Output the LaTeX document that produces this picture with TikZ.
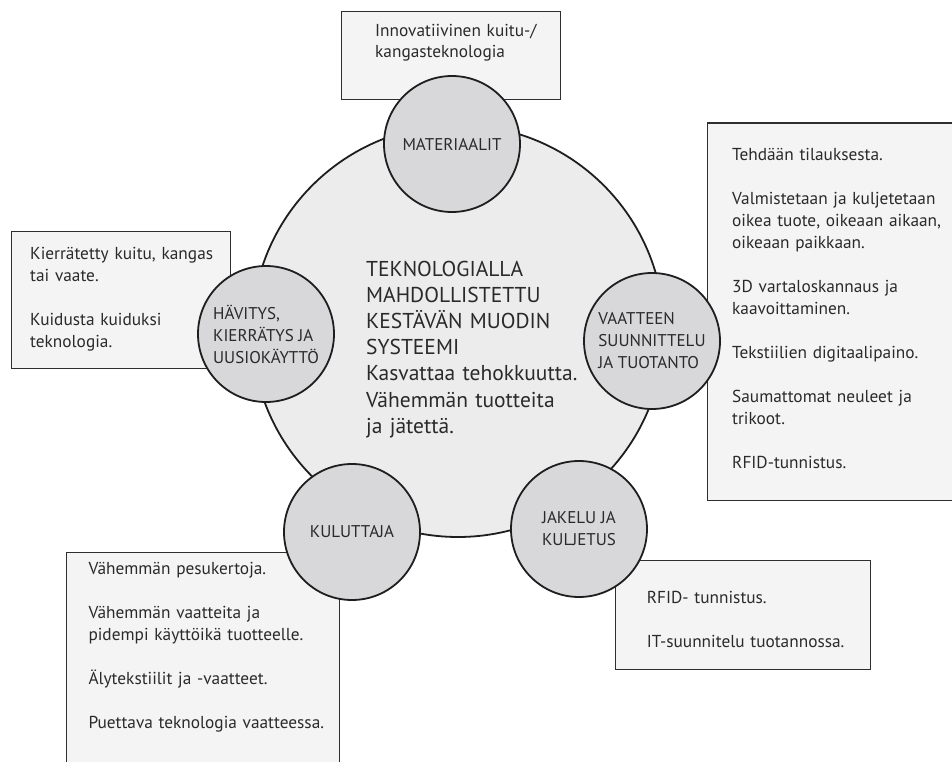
\documentclass[tikz,border=0pt]{standalone}
\usepackage{fontspec}
\setmainfont{PT Sans}
\definecolor{boxfill}{HTML}{F4F4F4}
\definecolor{boxline}{HTML}{2E2E2E}
\definecolor{hubfill}{HTML}{ECECEC}
\definecolor{stagefill}{HTML}{D8D8DA}
\definecolor{ringline}{HTML}{1E1E1E}
\definecolor{inkgray}{HTML}{2A2A2A}

\begin{document}
\begin{tikzpicture}[
	x=1pt, y=-1pt,
	infobox/.style = {draw=boxline, fill=boxfill, line width=1.4pt, inner sep=0pt, anchor=north west},
	hub/.style = {circle, draw=ringline, fill=hubfill, line width=1.8pt, minimum size=412pt, inner sep=0pt},
	stage/.style = {circle, draw=ringline, fill=stagefill, line width=1.8pt, minimum size=136pt, inner sep=0pt},
	stagetext/.style = {align=left, inner sep=0pt, text=inkgray, font=\fontsize{17}{22}\selectfont},
	note/.style = {anchor=base west, inner sep=0pt, text width=260pt, align=left, text=inkgray,
		font=\fontsize{17.3}{22}\selectfont},
	headline/.style = {note, font=\fontsize{21.5}{26.2}\selectfont}
	]
	\useasboundingbox (0,0) rectangle (952,762);

	\coordinate (@mat) at (452,144);
	\coordinate (@vaat) at (652,341);
	\coordinate (@jak) at (579,529);
	\coordinate (@kul) at (352,532);
	\coordinate (@hav) at (266,334);

	\node[infobox, minimum width=219pt, minimum height=88pt] (matbox) at (341,11) {};
	\node[infobox, minimum width=260pt, minimum height=377pt] (vaatbox) at (707,122.5) {};
	\node[infobox, minimum width=255pt, minimum height=108.5pt] (jakbox) at (614.5,560) {};
	\node[infobox, minimum width=273pt, minimum height=220pt] (kulbox) at (66,552) {};
	\node[infobox, minimum width=219pt, minimum height=136.5pt] (havbox) at (10.5,231) {};

	\node[note, font=\fontsize{17.3}{20.5}\selectfont] (mattext) at (375,37) {Innovatiivinen kuitu-/\\kangasteknologia};
	\node[note] (vaattext) at (732,160.7) {Tehdään tilauksesta.\\[22pt]
		Valmistetaan ja kuljetetaan\\oikea tuote, oikeaan aikaan,\\oikeaan paikkaan.\\[22pt]
		3D vartaloskannaus ja\\kaavoittaminen.\\[22pt]
		Tekstiilien digitaalipaino.\\[22pt]
		Saumattomat neuleet ja\\trikoot.\\[22pt]
		RFID-tunnistus.};
	\node[note] (jaktext) at (646.7,603.3) {RFID- tunnistus.\\[22pt]IT-suunnitelu tuotannossa.};
	\node[note] (kultext) at (88.3,574.5) {Vähemmän pesukertoja.\\[22pt]
		Vähemmän vaatteita ja\\pidempi käyttöikä tuotteelle.\\[22pt]
		Älytekstiilit ja -vaatteet.\\[22pt]
		Puettava teknologia vaatteessa.};
	\node[note] (havtext) at (30,259) {Kierrätetty kuitu, kangas\\tai vaate.\\[22pt]Kuidusta kuiduksi\\teknologia.};

	\node[hub] (hub) at (458,331) {};
	\node[headline] (hubtext) at (366,276) {TEKNOLOGIALLA\\MAHDOLLISTETTU\\KESTÄVÄN MUODIN\\SYSTEEMI\\
		Kasvattaa tehokkuutta.\\Vähemmän tuotteita\\ja jätettä.};

	\node[stage] (mat) at (@mat) {};
	\node[stage] (vaat) at (@vaat) {};
	\node[stage] (jak) at (@jak) {};
	\node[stage] (kul) at (@kul) {};
	\node[stage] (hav) at (@hav) {};

	\node[stagetext] (matlabel) at (mat) {MATERIAALIT};
	\node[stagetext] (vaatlabel) at (vaat) {VAATTEEN\\SUUNNITTELU\\JA TUOTANTO};
	\node[stagetext] (jaklabel) at (jak) {JAKELU JA\\KULJETUS};
	\node[stagetext] (kullabel) at (kul) {KULUTTAJA};
	\node[stagetext] (havlabel) at (hav) {HÄVITYS,\\KIERRÄTYS JA\\UUSIOKÄYTTÖ};

\end{tikzpicture}
\end{document}
